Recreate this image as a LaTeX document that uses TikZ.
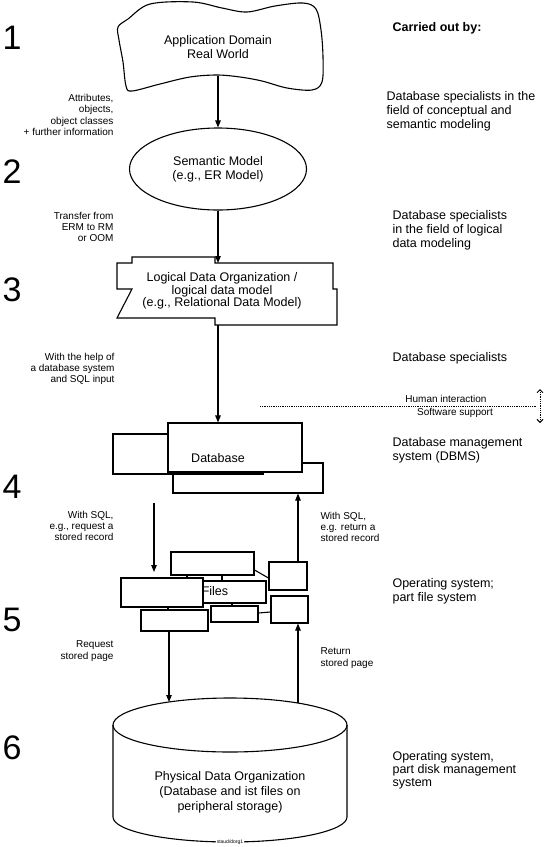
\documentclass[tikz,border=0pt]{standalone}
\usepackage{fontspec}
\setmainfont{Liberation Sans}
\usetikzlibrary{shapes.geometric,arrows.meta}
\begin{document}
\begin{tikzpicture}[x=1pt,y=-1pt,
  line width=1.1pt, line join=miter,
  arr/.style={-{Triangle[length=7pt,width=5.5pt]}},
  boxtxt/.style={font=\fontsize{12.5}{14}\selectfont, align=center, inner sep=0pt},
  sidelab/.style={font=\fontsize{10}{11.3}\selectfont, align=right, anchor=east, inner sep=0pt},
  rsidelab/.style={font=\fontsize{10}{11.3}\selectfont, align=left, anchor=west, inner sep=0pt},
  rcol/.style={font=\fontsize{12.5}{14}\selectfont, align=left, anchor=west, inner sep=0pt},
  num/.style={font=\fontsize{34}{34}\selectfont, inner sep=0pt},
  rbox/.style={draw, fill=white, inner sep=0pt},
  dotline/.style={line width=1pt, dash pattern=on 1pt off 0.8pt}
]
\fill[white] (0,0) rectangle (544,847);
\useasboundingbox (0,0) rectangle (544,847);

% level numbers
\node[num] (n1) at (12,38) {1};
\node[num] (n2) at (12,172) {2};
\node[num] (n3) at (12,290) {3};
\node[num] (n4) at (12,487) {4};
\node[num] (n5) at (12,620) {5};
\node[num] (n6) at (12,748) {6};

% header
\node[anchor=west, inner sep=0pt, font=\fontsize{12.5}{14}\selectfont\bfseries] (hdr) at (392,28) {Carried out by:};

% cloud
\draw plot[smooth cycle, tension=0.55] coordinates {
  (150,4) (193,2) (222,8) (247,12) (275,6) (303,3) (316,9) (321,30)
  (323,57) (322,82) (312,90) (287,88) (262,81) (240,77) (217,75) (190,77)
  (160,84) (132,91) (126,86) (123,62) (119,40) (118,27) (128,19)};
\node[boxtxt] (cloud) at (218,47) {Application Domain\\Real World};
\coordinate (cloudb) at (218,76);

% semantic model
\node[draw, ellipse, minimum width=177pt, minimum height=82pt, inner sep=0pt, align=center,
      font=\fontsize{12.5}{14}\selectfont] (sem) at (218,169) {Semantic Model\\(e.g., ER Model)};

% logical data organization
\draw (117,263) -- (132,263) -- (132,257) -- (215,257) -- (215,263) -- (333,263)
  -- (333,289) -- (337,289) -- (337,325) -- (215,325) -- (215,318) -- (117,318)
  -- (132,289) -- (117,289) -- cycle;
\node[boxtxt, font=\fontsize{12.5}{12.6}\selectfont] (log) at (222,291)
  {Logical Data Organization /\\logical data model\\(e.g., Relational Data Model)};
\coordinate (logt) at (218,263);
\coordinate (logb) at (218,325);

% database boxes
\node[rbox, minimum width=150pt, minimum height=30pt] (dbR) at (248,478) {};
\node[rbox, minimum width=150pt, minimum height=40pt] (dbL) at (188,454) {};
\node[rbox, minimum width=134pt, minimum height=49pt] (dbF) at (235,447.5) {};
\node[boxtxt] (dbt) at (218,458) {Database};

% files boxes
\draw (187,575) -- (187,578);
\draw (222,575) -- (222,581);
\draw (168,607) -- (168,610);
\draw (232,603) -- (232,606);
\node[rbox, minimum width=83pt, minimum height=23pt] (fA) at (212.5,563.5) {};
\node[rbox, minimum width=63pt, minimum height=22pt] (fC) at (234.5,592) {};
\node[rbox, minimum width=82pt, minimum height=29pt] (fB) at (162,592.5) {};
\node[rbox, minimum width=67pt, minimum height=21pt] (fD) at (174.5,620.5) {};
\node[rbox, minimum width=47pt, minimum height=16pt] (fE) at (234.5,614) {};
\node[rbox, minimum width=38pt, minimum height=28pt] (fF) at (288,576) {};
\node[rbox, minimum width=37pt, minimum height=27pt] (fG) at (289.5,609.5) {};
\draw (fA.east |- 0,570) -- (fF.west |- 0,578);
\draw (fE.east |- 0,613) -- (fG.west |- 0,612);
\node[boxtxt] (files) at (215,591) {Files};

% cylinder
\draw[fill=white] (113,725) -- (113,817) arc[start angle=180, end angle=0, x radius=117, y radius=25] -- (347,725);
\draw (230,725) ellipse [x radius=117, y radius=27];
\node[boxtxt, font=\fontsize{12.5}{15}\selectfont] (phys) at (230,792)
  {Physical Data Organization\\(Database and ist files on\\peripheral storage)};
\node[fill=white, inner sep=1pt, font=\fontsize{5}{5}\selectfont] (staud) at (230,842) {staud/dorg1};
\coordinate (cylL) at (169,702);
\coordinate (cylR) at (298,703);

% x positions for vertical connectors
\coordinate (upx) at (298,0);
\coordinate (dnx) at (169,0);
\coordinate (s1) at (154,503);
\coordinate (s2) at (154,572);

% connectors
\draw[arr] (cloudb) -- (sem.north);
\draw[arr] (sem.south) -- (logt);
\draw[arr] (logb) -- (dbF.north -| logb);
\draw[arr] (s1) -- (s2);
\draw[arr] (fF.north -| upx) -- (dbR.south -| upx);
\draw[arr] (fD.south -| dnx) -- (cylL);
\draw[arr] (cylR) -- (fG.south -| upx);

% human / software boundary
\coordinate (hl) at (260,406);
\coordinate (hr) at (536,406);
\draw[dotline] (hl) -- (hr);
\coordinate (va) at (540,389);
\coordinate (vb) at (540,423);
\draw[dotline, {Straight Barb[length=3pt,width=6pt]}-{Straight Barb[length=3pt,width=6pt]}] (va) -- (vb);
\node[inner sep=0pt, font=\fontsize{10}{11}\selectfont] (hi) at (446,399) {Human interaction};
\node[inner sep=0pt, font=\fontsize{10}{11}\selectfont] (ss) at (455,413) {Software support};

% side labels
\node[sidelab] (l1) at (114,115) {Attributes,\\objects,\\object classes\\+ further information};
\node[sidelab] (l2) at (114,227) {Transfer from\\ERM to RM\\or OOM};
\node[sidelab] (l3) at (115,369) {With the help of\\a database system\\and SQL input};
\node[sidelab] (l4) at (114,526) {With SQL,\\e.g., request a\\stored record};
\node[sidelab] (l5) at (114,651) {Request\\stored page};
\node[rsidelab] (l6) at (320,527) {With SQL,\\e.g. return a\\stored record};
\node[rsidelab] (l7) at (320,658) {Return\\stored page};

% right column
\node[rcol] (r1) at (386,111) {Database specialists in the\\field of conceptual and\\semantic modeling};
\node[rcol] (r2) at (392,230) {Database specialists\\in the field of logical\\data modeling};
\node[rcol] (r3) at (392,358) {Database specialists};
\node[rcol] (r4) at (392,450) {Database management\\system (DBMS)};
\node[rcol, font=\fontsize{12.5}{13.5}\selectfont] (r5) at (392,591.5) {Operating system;\\part file system};
\node[rcol, font=\fontsize{12.5}{13}\selectfont] (r6) at (392,770) {Operating system,\\part disk management\\system};
\end{tikzpicture}
\end{document}
